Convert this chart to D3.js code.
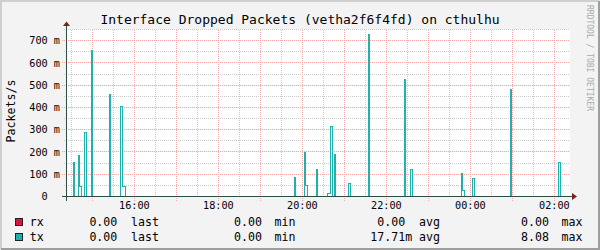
<!DOCTYPE html>
<html>
<head>
<meta charset="utf-8">
<script src="https://cdn.jsdelivr.net/npm/d3@7"></script>
<style>
  body { margin: 0; background: #fff; }
  svg text { font-family: "DejaVu Sans Mono", monospace; fill: #000; }
</style>
</head>
<body>
<div id="chart"></div>
<script>
// time window of the graph
const timeStart = "14:23:00";
const timeEnd = "02:23:00";

// tx dropped packets/s, step series: each value holds until the next time
const txTimes = [
  "14:23:00", "14:33:17", "14:34:43", "14:40:51", "14:42:17", "14:44:43",
  "14:49:26", "14:51:51", "14:59:00", "15:00:26", "15:24:43", "15:26:09",
  "15:40:51", "15:43:43", "15:47:34", "19:49:26", "19:51:17", "20:03:43",
  "20:05:51", "20:07:34", "20:20:51", "20:22:17", "20:37:00", "20:40:09",
  "20:43:17", "20:46:34", "20:48:00", "21:06:34", "21:09:00", "21:35:09",
  "21:36:34", "22:26:34", "22:28:00", "22:35:09", "22:37:34", "23:48:00",
  "23:49:26", "23:51:51", "00:03:43", "00:06:09", "00:58:00", "00:59:26",
  "02:06:34", "02:09:00", "02:23:00"
];
const txValues = [
  0, 0.151, 0, 0.184, 0.045, 0,
  0.286, 0, 0.655, 0, 0.458, 0,
  0.404, 0.045, 0, 0.084, 0, 0.197,
  0.048, 0, 0.121, 0, 0.012, 0.314,
  0, 0.188, 0, 0.058, 0, 0.727,
  0, 0.525, 0, 0.121, 0, 0.102,
  0.025, 0, 0.081, 0, 0.480, 0,
  0.152, 0, 0
];

// rx is flat zero over the whole window
const rxTimes = ["14:23:00", "02:23:00"];
const rxValues = [0, 0];

const yTickValues = [0, 0.1, 0.2, 0.3, 0.4, 0.5, 0.6, 0.7];
const xTickLabels = ["16:00", "18:00", "20:00", "22:00", "00:00", "02:00"];

const seriesNames = ["rx", "tx"];
const seriesColors = ["#dc143c", "#20b2aa"];
const statLabels = ["last", "min", "avg", "max"];
const rxStats = ["0.00", "0.00", "0.00", "0.00"];
const txStats = ["0.00", "0.00", "17.71m", "8.08"];

const width = 600, height = 250;
const plot = {left: 66, right: 570, top: 29.5, bottom: 196.5};

function parseT(s) {
  const [h, m, sec = 0] = s.split(":").map(Number);
  // the window crosses midnight
  return new Date(2024, 0, h < 12 ? 2 : 1, h, m, sec);
}

const svg = d3.select("#chart").append("svg")
  .attr("width", width)
  .attr("height", height);

// background and 3d border
svg.append("rect").attr("width", width).attr("height", height).attr("fill", "#f3f3f3");
svg.append("path").attr("d", `M1,${height - 1}V1H${width - 1}`)
  .attr("fill", "none").attr("stroke", "#cfcfcf").attr("stroke-width", 2);
svg.append("path").attr("d", `M1,${height - 1}H${width - 1}V1`)
  .attr("fill", "none").attr("stroke", "#9e9e9e").attr("stroke-width", 2);

const x = d3.scaleTime()
  .domain([parseT(timeStart), parseT(timeEnd)])
  .range([plot.left, plot.right]);

const y = d3.scaleLinear()
  .domain([0, 0.75])
  .range([plot.bottom, plot.top]);

// canvas
svg.append("rect")
  .attr("x", plot.left).attr("y", plot.top - 0.5)
  .attr("width", plot.right - plot.left).attr("height", plot.bottom - plot.top + 0.5)
  .attr("fill", "#fff");

const grid = svg.append("g").attr("shape-rendering", "crispEdges");

// minor grid
const minorTimes = d3.timeMinute.every(30).range(x.domain()[0], x.domain()[1]);
grid.selectAll("line.vmin").data(minorTimes).enter().append("line")
  .attr("x1", d => Math.round(x(d)) + 0.5).attr("x2", d => Math.round(x(d)) + 0.5)
  .attr("y1", plot.top).attr("y2", plot.bottom)
  .attr("stroke", "#cccccc").attr("stroke-dasharray", "1,1");

grid.selectAll("line.hmin").data(y.ticks(15)).enter().append("line")
  .attr("x1", plot.left - 2).attr("x2", plot.right)
  .attr("y1", d => Math.round(y(d) - 0.5) + 0.5).attr("y2", d => Math.round(y(d) - 0.5) + 0.5)
  .attr("stroke", "#cccccc").attr("stroke-dasharray", "1,1");

// major grid
const majorTimes = d3.timeHour.range(x.domain()[0], x.domain()[1]);
grid.selectAll("line.vmaj").data(majorTimes).enter().append("line")
  .attr("x1", d => Math.round(x(d)) + 0.5).attr("x2", d => Math.round(x(d)) + 0.5)
  .attr("y1", plot.top).attr("y2", plot.bottom + 4)
  .attr("stroke", "#f2a6a6").attr("stroke-dasharray", "1,1");

grid.selectAll("line.hmaj").data(yTickValues).enter().append("line")
  .attr("x1", plot.left - 4).attr("x2", plot.right)
  .attr("y1", d => Math.round(y(d) - 0.5) + 0.5).attr("y2", d => Math.round(y(d) - 0.5) + 0.5)
  .attr("stroke", "#f2a6a6").attr("stroke-dasharray", "1,1");

// data lines
const line = d3.line()
  .x(d => x(d.t))
  .y(d => y(d.v))
  .curve(d3.curveStepAfter);

const rxData = rxTimes.map((t, i) => ({t: parseT(t), v: rxValues[i]}));
const txData = txTimes.map((t, i) => ({t: parseT(t), v: txValues[i]}));

svg.append("path").datum(rxData)
  .attr("d", line).attr("fill", "none")
  .attr("stroke", seriesColors[0]).attr("shape-rendering", "crispEdges");

svg.append("path").datum(txData)
  .attr("d", line).attr("fill", "none")
  .attr("stroke", seriesColors[1]).attr("shape-rendering", "crispEdges");

// axes
const axisColor = "#2c4d43";
svg.append("line")
  .attr("x1", plot.left - 4).attr("x2", plot.right + 3)
  .attr("y1", plot.bottom).attr("y2", plot.bottom)
  .attr("stroke", axisColor).attr("shape-rendering", "crispEdges");
svg.append("line")
  .attr("x1", plot.left + 0.5).attr("x2", plot.left + 0.5)
  .attr("y1", plot.bottom + 4).attr("y2", plot.top - 5)
  .attr("stroke", axisColor).attr("shape-rendering", "crispEdges");

// arrows
svg.append("path")
  .attr("d", `M${plot.right + 2},${plot.bottom - 3.5}L${plot.right + 7},${plot.bottom}L${plot.right + 2},${plot.bottom + 3.5}Z`)
  .attr("fill", "#7f1f1f");
svg.append("path")
  .attr("d", `M${plot.left - 3},${plot.top - 3.5}L${plot.left + 0.5},${plot.top - 8}L${plot.left + 4},${plot.top - 3.5}Z`)
  .attr("fill", "#7f1f1f");

// tick labels
const xAxis = d3.axisBottom(x)
  .tickValues(xTickLabels.map(parseT))
  .tickFormat(d3.timeFormat("%H:%M"))
  .tickSize(0)
  .tickPadding(5.5);

const gx = svg.append("g")
  .attr("transform", `translate(0,${plot.bottom})`)
  .call(xAxis);
gx.select(".domain").remove();
gx.selectAll("text").style("font-family", "DejaVu Sans Mono").style("font-size", "10.2px");

const yAxis = d3.axisLeft(y)
  .tickValues(yTickValues)
  .tickFormat(d => d === 0 ? "0" : `${Math.round(d * 1000)} m`)
  .tickSize(0)
  .tickPadding(6);

const gy = svg.append("g")
  .attr("transform", `translate(${plot.left},0)`)
  .call(yAxis);
gy.select(".domain").remove();
gy.selectAll("text").style("font-family", "DejaVu Sans Mono").style("font-size", "10.2px");
// zero has no unit, keep the number column aligned
gy.selectAll("text").filter(d => d === 0).attr("x", -18.3);

// title
svg.append("text")
  .attr("x", 300).attr("y", 24)
  .attr("text-anchor", "middle")
  .style("font-size", "13px")
  .text("Interface Dropped Packets (vetha2f6f4fd) on cthulhu");

// vertical label
svg.append("text")
  .attr("transform", "translate(15,111) rotate(-90)")
  .attr("text-anchor", "middle")
  .style("font-size", "11.6px")
  .text("Packets/s");

// watermark
svg.append("text")
  .attr("transform", "translate(587,5) rotate(90)")
  .style("font-size", "8px")
  .style("fill", "#aaa")
  .text("RRDTOOL / TOBI OETIKER");

// legend
const legendRows = [226, 240.5];
const numEnds = [117.3, 262, 405.2, 549];
const labelStarts = [131, 274.5, 419, 561.5];
const allStats = [rxStats, txStats];

const legend = svg.append("g").style("font-size", "11.6px");

seriesNames.forEach((name, i) => {
  const by = legendRows[i];
  legend.append("rect")
    .attr("x", 15.5).attr("y", by - 7.5)
    .attr("width", 7).attr("height", 7)
    .attr("fill", seriesColors[i])
    .attr("stroke", "#222")
    .attr("shape-rendering", "crispEdges");
  legend.append("text").attr("x", 29.8).attr("y", by).text(name);

  allStats[i].forEach((s, j) => {
    const num = s.replace(/[a-zA-Z]+$/, "");
    const unit = s.slice(num.length);
    legend.append("text")
      .attr("x", numEnds[j]).attr("y", by)
      .attr("text-anchor", "end")
      .text(num);
    if (unit) {
      legend.append("text").attr("x", numEnds[j]).attr("y", by).text(unit);
    }
    legend.append("text").attr("x", labelStarts[j]).attr("y", by).text(statLabels[j]);
  });
});
</script>
</body>
</html>
